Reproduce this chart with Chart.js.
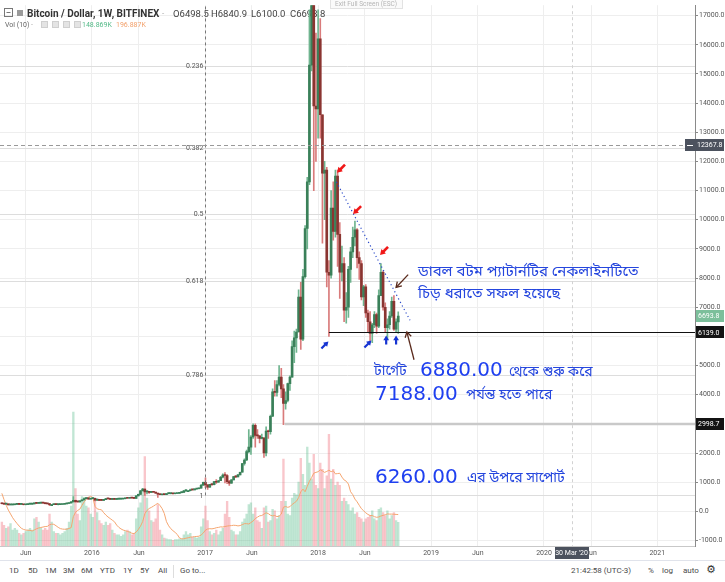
<!DOCTYPE html>
<html><head><meta charset="utf-8">
<script src="https://cdn.jsdelivr.net/npm/chart.js@4.4.1/dist/chart.umd.min.js"></script>
<style>
html,body{margin:0;padding:0;background:#fff;}
body{width:725px;height:582px;overflow:hidden;position:relative;font-family:Roboto,'DejaVu Sans',sans-serif;}
#c{position:absolute;left:0;top:0;}
#bar{position:absolute;left:0;top:560px;width:725px;height:22px;border-top:1px solid #e0e3eb;box-sizing:border-box;font-size:8px;color:#4a4a4a;}
#bar span{position:absolute;top:5px;white-space:nowrap;}
#bar .sep{position:absolute;left:173px;top:4px;width:1px;height:13px;background:#ddd;}
</style></head><body>
<canvas id="c" width="725" height="560"></canvas>
<div id="bar">
<span style="left:9px">1D</span><span style="left:28px">5D</span><span style="left:45px">1M</span><span style="left:63px">3M</span><span style="left:81px">6M</span><span style="left:100px">YTD</span><span style="left:123px">1Y</span><span style="left:140px">5Y</span><span style="left:158px">All</span><div class="sep"></div><span style="left:180px">Go to...</span>
<span style="left:571px">21:42:58 (UTC-3)</span><span style="left:648px">%</span><span style="left:662px">log</span><span style="left:683px">auto</span><span style="left:706px;font-size:11px;top:2px;color:#333">⚙</span>
</div>
<script>
// ---------------- data (weekly, BITFINEX BTC/USD) ----------------
const firstWeek = '2015-03-16';
const open = [285,261,247,254,223,224,226,240,242,237,240,225,229,245,247,251,288,274,280,290,281,263,258,229,229,240,230,231,235,244,253,270,287,325,380,333,325,362,389,435,460,420,
433,448,383,400,378,373,402,438,431,410,415,410,416,420,422,430,459,450,460,456,444,528,580,705,762,665,675,650,665,655,622,590,570,580,575,605,607,608,602,612,617,640,652,700,705,705,740,735,765,775,790,895,
995,905,830,922,915,1020,998,1050,1170,1240,1230,1020,965,1080,1190,1180,1250,1340,1640,1760,2050,2200,2550,2950,2600,2590,2500,2510,2000,2750,2730,3260,4100,4080,4350,4600,4200,3700,3800,4380,4600,5650,5950,6150,7350,5900,8050,9700,11300,15300,19100,13900,
13800,16200,13600,11600,11700,8200,8100,10400,9600,11500,9500,8200,8500,6900,7000,8300,8900,9400,9650,8700,8500,7350,7700,6800,6500,6100,6400,6750,6350,7400,8200,7000,6300,6400,6700,7200,6250,6498.5];
const high = [295,268,262,261,236,238,246,247,245,242,241,232,247,254,256,294,310,295,296,300,284,270,268,235,241,245,236,238,246,255,272,294,335,502,390,340,365,395,465,468,465,438,
462,455,422,402,392,405,445,440,443,420,418,420,426,425,432,462,468,465,462,458,540,588,720,785,770,705,690,680,680,660,625,605,585,585,612,630,612,612,615,620,642,660,720,745,720,760,750,775,780,795,925,1000,
1150,915,930,930,1030,1085,1060,1200,1290,1330,1260,1060,1090,1200,1220,1265,1345,1650,1800,2100,2800,2600,3000,3000,2800,2600,2650,2540,2900,2790,3300,4200,4480,4480,5000,4900,4350,4100,4400,4650,5850,6180,6250,7600,7850,8300,9800,11450,17200,19900,19200,16400,
17200,16900,13600,12000,11800,8600,11000,11300,11700,11700,9900,9100,8700,7500,8400,9050,9750,9950,9700,8900,8600,7750,7780,6900,6850,6450,6850,6800,7600,8500,8250,7150,6600,6850,7350,7400,6600,6840.9];
const low = [255,235,240,221,216,218,220,226,232,230,222,218,227,235,240,251,264,268,272,277,258,255,195,198,225,226,222,225,234,236,252,266,283,325,305,310,315,345,388,430,415,415,
425,360,365,366,366,368,400,405,405,404,406,404,410,415,420,428,442,444,446,436,443,526,578,690,545,600,610,640,650,615,480,570,565,570,570,600,600,592,598,605,612,628,650,682,685,700,725,730,755,770,790,890,
810,750,820,890,905,960,990,1050,1145,975,950,890,960,1075,1150,1180,1245,1340,1580,1740,2000,1950,2500,2200,2500,2350,2480,1850,1900,2500,2650,3250,3950,3950,4300,3900,2970,3500,3750,4150,4600,5100,5450,6150,5550,5850,8000,9000,11200,15100,11000,12000,
12800,12800,9200,10000,7700,6000,8000,9300,9400,8400,7300,7900,6500,6450,6650,7850,8700,9100,8350,7950,7250,7050,6650,6150,5800,5780,6300,6100,6300,7400,6900,6150,5900,6250,6650,6200,6150,6100];
const close = [261,247,254,223,224,226,240,242,237,240,225,229,245,247,251,288,274,280,290,281,263,258,229,229,240,230,231,235,244,253,270,287,325,380,333,325,362,389,435,460,420,433,
448,383,400,378,373,402,438,431,410,415,410,416,420,422,430,459,450,460,456,444,528,580,705,762,665,675,650,665,655,622,590,570,580,575,605,607,608,602,612,617,640,652,700,705,705,740,735,765,775,790,895,995,
905,830,922,915,1020,998,1050,1170,1240,1230,1020,965,1080,1190,1180,1250,1340,1640,1760,2050,2200,2550,2950,2600,2590,2500,2510,2000,2750,2730,3260,4100,4080,4350,4600,4200,3700,3800,4380,4600,5650,5950,6150,7350,5900,8050,9700,11300,15300,19100,13900,13800,
16200,13600,11600,11700,8200,8100,10400,9600,11500,9500,8200,8500,6900,7000,8300,8900,9400,9650,8700,8500,7350,7700,6800,6500,6100,6400,6750,6350,7400,8200,7000,6300,6400,6700,7200,6250,6498.5,6693.8];
const volume = [150,130,110,120,140,100,110,100,80,70,80, 90,100,110,100,170,180,150,110,100,110,100, 200,150,90,80,80,70,80,90,110,150,
250,840,360,200,160,310,300,250,240,200, 180,280,210,160,140,130,150,130,140, 100,80,70,70,60,70,90,100,90,70,80,170,240,
270,350,560,300,220,160,150,170,260, 100,70,50,45,40,40,35,40,40,45,45,70,90,70,80,55,55,50,55, 120,170,
250,160,90,70,80,100,70,90,110,200,280,180,100,90,70,70,90, 150,170,200,260,270,200,240,160,150,110,240,
250,150,160,230,220,170,190,280,545,280,200,190, 300,330,320,400,550,450,380,620, 520,420,575,380,360,520,480,360,440,700,
420,480,380,400,380,280,300,280, 260,220,240,200,210,180,170,150,170,180,190, 220,170,160, 230,240,210,190,220,170,190,210,160,148.869];
// volume of the 9 weeks before the first visible candle (feeds the 10-week average)
const priorVolume = [520,470,420,380,340,300,270,240,210];
const tickDates = ['2015-06-01','2016-01-01','2016-06-01','2017-01-01','2017-06-01','2018-01-01','2018-06-01','2019-01-01','2019-06-01','2020-01-01','2020-06-01','2021-01-01'];
const tickLabels = ['Jun','2016','Jun','2017','Jun','2018','Jun','2019','Jun','2020','Jun','2021'];
const priceTicks = [-1000,0,1000,2000,3000,4000,5000,6000,7000,8000,9000,10000,11000,12000,13000,14000,15000,16000,17000];
const fibLevels = [0.236,0.382,0.5,0.618,0.786,1];
const fibHigh = 19830, fibLow = 544, fibDate = '2017-01-02';
const supportLine = {from:'2018-02-05', price:6139.0};
const grayLine = {from:'2017-09-15', price:2998.7};
const crossPrice = 12560, crossLabel = '12367.8', crossDate = '2020-03-30', crossDateLabel = "30 Mar '20";
const trendLine = [['2018-03-01',11300],['2018-10-25',6550]];
const redArrows = [['2018-03-16',11750],['2018-05-07',10330],['2018-08-02',8930]];
const blueArrows = [['2018-01-23',5707,'ne'],['2018-06-11',5740,'ne'],['2018-08-09',5876,'n'],['2018-09-10',5876,'n']];
const brownArrows = [[['2018-10-19',8118],['2018-09-10',7677]],[['2018-11-07',5197],['2018-10-15',6148]]];

// ---------------- derived ----------------
const D = s => Date.parse(s);
const WEEK = 7*864e5;
const weeks = open.map((_, i) => D(firstWeek) + i*WEEK);
const isUp = close.map((c, i) => c >= open[i]);
const allVol = priorVolume.concat(volume);
const volMA = volume.map((_, i) => { const j = i + priorVolume.length; const s = allVol.slice(j-9, j+1); return s.reduce((a,b)=>a+b,0)/s.length; });
const last = open.length - 1;

const UP_BODY='#3a8059', DN_BODY='#8a3531', UP_WICK='#6fb48f', DN_WICK='#d97b7b';

function arrow(ctx,x1,y1,x2,y2,color,w,head,filled){
  const a=Math.atan2(y2-y1,x2-x1);
  ctx.save(); ctx.strokeStyle=color; ctx.fillStyle=color; ctx.lineWidth=w; ctx.setLineDash([]);
  ctx.beginPath(); ctx.moveTo(x1,y1);
  if(filled){ ctx.lineTo(x2-Math.cos(a)*head*0.7, y2-Math.sin(a)*head*0.7);} else ctx.lineTo(x2,y2);
  ctx.stroke();
  ctx.beginPath();
  const p1=[x2-head*Math.cos(a-0.55), y2-head*Math.sin(a-0.55)], p2=[x2-head*Math.cos(a+0.55), y2-head*Math.sin(a+0.55)];
  if(filled){ ctx.moveTo(x2,y2); ctx.lineTo(p1[0],p1[1]); ctx.lineTo(p2[0],p2[1]); ctx.closePath(); ctx.fill(); }
  else { ctx.moveTo(p1[0],p1[1]); ctx.lineTo(x2,y2); ctx.lineTo(p2[0],p2[1]); ctx.stroke(); }
  ctx.restore();
}
function tag(ctx, yc, x0, x1, bg, text, fg){
  ctx.fillStyle=bg; ctx.fillRect(x0, Math.round(yc)-6, x1-x0, 12);
  ctx.fillStyle=fg||'#fff'; ctx.font='7px Roboto'; ctx.textAlign='left'; ctx.textBaseline='middle';
  ctx.fillText(text, 698, yc+0.5);
}
const BN = "'Noto Sans Bengali','Noto Serif Bengali','Lohit Bengali','Noto Sans',sans-serif";

const overlay = {
  id:'overlay',
  beforeDatasetsDraw(chart){
    const {ctx, chartArea:a, scales:{x,y}} = chart;
    ctx.save();
    ctx.beginPath(); ctx.rect(a.left,a.top,a.right-a.left,a.bottom-a.top); ctx.clip();
    // fib levels
    const fx = x.getPixelForValue(D(fibDate));
    fibLevels.forEach(l=>{
      const py = Math.round(y.getPixelForValue(fibHigh - l*(fibHigh-fibLow)))+0.5;
      ctx.strokeStyle='#dddddd'; ctx.lineWidth=1; ctx.beginPath(); ctx.moveTo(a.left,py); ctx.lineTo(a.right,py); ctx.stroke();
      ctx.fillStyle='#555'; ctx.font='7px Roboto'; ctx.textAlign='right'; ctx.textBaseline='middle';
      ctx.fillText(String(l), fx-2, py+ (l===1?1:0));
    });
    // gray level line
    const gy = y.getPixelForValue(grayLine.price);
    ctx.strokeStyle='#c9c9c9'; ctx.lineWidth=2.5; ctx.beginPath(); ctx.moveTo(x.getPixelForValue(D(grayLine.from)),gy); ctx.lineTo(a.right,gy); ctx.stroke();
    // header
    ctx.strokeStyle='#777'; ctx.lineWidth=1; ctx.strokeRect(4.5,8.5,8,8); ctx.beginPath(); ctx.moveTo(6.5,12.5); ctx.lineTo(10.5,12.5); ctx.stroke();
    ctx.fillStyle='#9a9a9a'; ctx.fillRect(17,10,6,6);
    ctx.textAlign='left'; ctx.textBaseline='alphabetic';
    ctx.fillStyle='#333'; ctx.font='bold 10px Roboto'; ctx.fillText('Bitcoin / Dollar, 1W, BITFINEX', 27, 16.5);
    ctx.fillStyle='#aaa'; ctx.font='8px Roboto'; ctx.fillText('-', 162, 16);
    ctx.fillStyle='#444'; ctx.font='9.5px Roboto';
    [['O',open[last]],['H',high[last]],['L',low[last]],['C',close[last]]].forEach((p,i)=>{
      ctx.fillText(p[0]+p[1].toFixed(1), [173,211,251,290][i], 16.5);
    });
    ctx.fillStyle='#666'; ctx.font='7px Roboto'; ctx.fillText('Vol (10)', 5, 27); ctx.fillStyle='#aaa'; ctx.fillText('-', 31, 27);
    [41,52,63,74].forEach(px=>{ ctx.fillStyle='#e4e4e4'; ctx.fillRect(px,21,7,7); ctx.strokeStyle='#cfcfcf'; ctx.strokeRect(px+0.5,21.5,6,6); });
    ctx.fillStyle='#53b987'; ctx.fillText(volume[last].toFixed(3)+'K', 82, 27);
    ctx.fillStyle='#f2a06b'; ctx.fillText(volMA[last].toFixed(3)+'K', 116, 27);
    ctx.restore();
  },
  afterDatasetsDraw(chart){
    const {ctx, chartArea:a, scales:{x,y}} = chart;
    const X = d => x.getPixelForValue(D(d)), Y = v => y.getPixelForValue(v);
    ctx.save();
    ctx.beginPath(); ctx.rect(a.left,a.top,a.right-a.left,a.bottom-a.top); ctx.clip();
    // support line
    const sy = Math.round(Y(supportLine.price))+0.5;
    ctx.strokeStyle='#111'; ctx.lineWidth=1; ctx.beginPath(); ctx.moveTo(X(supportLine.from),sy); ctx.lineTo(a.right,sy); ctx.stroke();
    // fib trend (dashed vertical)
    const fx = Math.round(X(fibDate))+0.5;
    ctx.setLineDash([3,3]); ctx.strokeStyle='#777'; ctx.beginPath(); ctx.moveTo(fx,Y(fibLow)); ctx.lineTo(fx,Y(fibHigh)); ctx.stroke();
    // crosshair
    const cy = Math.round(Y(crossPrice))+0.5;
    ctx.strokeStyle='#999'; ctx.setLineDash([4,3]); ctx.beginPath(); ctx.moveTo(a.left,cy); ctx.lineTo(a.right,cy); ctx.stroke();
    const cx = Math.round(X(crossDate))+0.5;
    ctx.strokeStyle='#d2d2d2'; ctx.setLineDash([3,3]); ctx.beginPath(); ctx.moveTo(cx,a.top); ctx.lineTo(cx,a.bottom); ctx.stroke();
    // trend line (dotted blue)
    ctx.strokeStyle='#2c4bc9'; ctx.lineWidth=1.2; ctx.setLineDash([1.2,2.8]);
    ctx.beginPath(); ctx.moveTo(X(trendLine[0][0]),Y(trendLine[0][1])); ctx.lineTo(X(trendLine[1][0]),Y(trendLine[1][1])); ctx.stroke();
    ctx.setLineDash([]);
    // arrows
    redArrows.forEach(([d,p])=>{ const ax=X(d), ay=Y(p); arrow(ctx, ax+4, ay-4, ax-4, ay+4, '#f01818', 2.6, 6, true); });
    blueArrows.forEach(([d,p,dir])=>{ const ax=X(d), ay=Y(p);
      if(dir==='ne') arrow(ctx, ax-3.5, ay+3.5, ax+3.5, ay-3.5, '#1634d2', 2.2, 5.5, true);
      else arrow(ctx, ax, ay+4.5, ax, ay-4.5, '#1634d2', 2.2, 5.5, true); });
    brownArrows.forEach(([f,t])=>{ arrow(ctx, X(f[0]),Y(f[1]), X(t[0]),Y(t[1]), '#5a2a1c', 1.3, 6, false); });
    // annotation texts
    ctx.fillStyle='#2546de'; ctx.textAlign='left'; ctx.textBaseline='alphabetic';
    ctx.font='15px '+BN;
    ctx.fillText('ডাবল বটম প্যাটার্নটির নেকলাইনটিতে', 418, 276);
    ctx.fillText('চিড় ধরাতে সফল হয়েছে', 418, 298);
    ctx.font='14px '+BN;
    ctx.fillText('টার্গেট', 374, 375);
    ctx.fillText('থেকে শুরু করে', 509, 376);
    ctx.fillText('পর্যন্ত হতে পারে', 466, 399);
    ctx.fillText('এর উপরে সাপোর্ট', 467, 482);
    ctx.fillStyle='#1f40f0'; ctx.font="20px 'DejaVu Sans'";
    ctx.fillText('6880.00', 420, 376);
    ctx.fillText('7188.00', 375, 400);
    ctx.fillText('6260.00', 375, 483);
    ctx.restore();
  },
  afterDraw(chart){
    const {ctx, chartArea:a, scales:{x,y}} = chart;
    ctx.save();
    // axis tags
    const cy = y.getPixelForValue(crossPrice);
    ctx.fillStyle='#4c525e'; ctx.fillRect(685, Math.round(cy)-6, 39, 12);
    ctx.strokeStyle='#fff'; ctx.lineWidth=1; ctx.beginPath(); ctx.moveTo(687,Math.round(cy)+0.5); ctx.lineTo(693,Math.round(cy)+0.5); ctx.stroke();
    ctx.fillStyle='#fff'; ctx.font='7px Roboto'; ctx.textBaseline='middle'; ctx.textAlign='left'; ctx.fillText(crossLabel, 697, cy+0.5);
    tag(ctx, y.getPixelForValue(close[last]), 696, 724, '#7cbf9b', close[last].toFixed(1));
    tag(ctx, y.getPixelForValue(supportLine.price), 696, 724, '#131313', supportLine.price.toFixed(1));
    tag(ctx, y.getPixelForValue(grayLine.price), 696, 724, '#131313', grayLine.price.toFixed(1));
    // crosshair date tag
    const cx = x.getPixelForValue(D(crossDate));
    ctx.fillStyle='#4c525e'; ctx.fillRect(Math.round(cx)-17, a.bottom+1, 34, 12);
    ctx.fillStyle='#fff'; ctx.textAlign='center'; ctx.fillText(crossDateLabel, cx, a.bottom+7.5);
    // exit full screen
    ctx.fillStyle='#fafafa'; ctx.fillRect(330,-4,72,13); ctx.strokeStyle='#e2e2e2'; ctx.strokeRect(330.5,-4.5,72,13);
    ctx.fillStyle='#b5b5b5'; ctx.font='6.5px Roboto'; ctx.textAlign='center'; ctx.fillText('Exit Full Screen (ESC)', 366, 4);
    ctx.restore();
  }
};

new Chart(document.getElementById('c'), {
  type:'bar',
  data:{datasets:[
    {type:'bar', data: weeks.map((t,i)=>({x:t,y:volume[i]})), yAxisID:'yVol', backgroundColor: isUp.map(u=>u?'rgba(83,185,135,0.36)':'rgba(235,77,92,0.32)'), barThickness:1.7, grouped:false, order:5},
    {type:'line', data: weeks.map((t,i)=>({x:t,y:volMA[i]})), yAxisID:'yVol', borderColor:'#f5a570', borderWidth:1, pointRadius:0, tension:0, order:4},
    {type:'bar', data: weeks.map((t,i)=>({x:t,y:[low[i],high[i]]})), yAxisID:'y', backgroundColor: isUp.map(u=>u?UP_WICK:DN_WICK), barThickness:1, grouped:false, order:2},
    {type:'bar', data: weeks.map((t,i)=>({x:t,y:[open[i],close[i]]})), yAxisID:'y', backgroundColor: isUp.map(u=>u?UP_BODY:DN_BODY), barThickness:2, minBarLength:1, grouped:false, order:1}
  ]},
  options:{
    responsive:false, animation:false, devicePixelRatio:1, events:[],
    layout:{padding:0},
    plugins:{legend:{display:false}, tooltip:{enabled:false}},
    scales:{
      x:{type:'linear', min:D('2015-03-10'), max:D('2021-05-03'), position:'bottom', offset:false,
         afterBuildTicks:s=>{ s.ticks = tickDates.map(d=>({value:D(d)})); },
         afterFit:s=>{ s.height = 14; },
         ticks:{autoSkip:false, maxRotation:0, padding:3, font:{size:7, family:'Roboto'}, color:'#555', callback:(v,i)=>tickLabels[i]},
         grid:{color:'#eeeeee', drawTicks:false, offset:false}, border:{color:'#c8c8c8'}},
      y:{type:'linear', position:'right', min:-1189, max:17357,
         afterBuildTicks:s=>{ s.ticks = priceTicks.map(v=>({value:v})); },
         afterFit:s=>{ s.width = 30; },
         ticks:{padding:1, font:{size:7, family:'Roboto'}, color:'#555', callback:v=>Number(v).toFixed(1)},
         grid:{color:'#eeeeee', tickLength:3, tickColor:'#888'}, border:{color:'#8a8a8a'}},
      yVol:{type:'linear', display:false, min:0, max:3390}
    }
  },
  plugins:[overlay]
});
</script>
</body></html>
